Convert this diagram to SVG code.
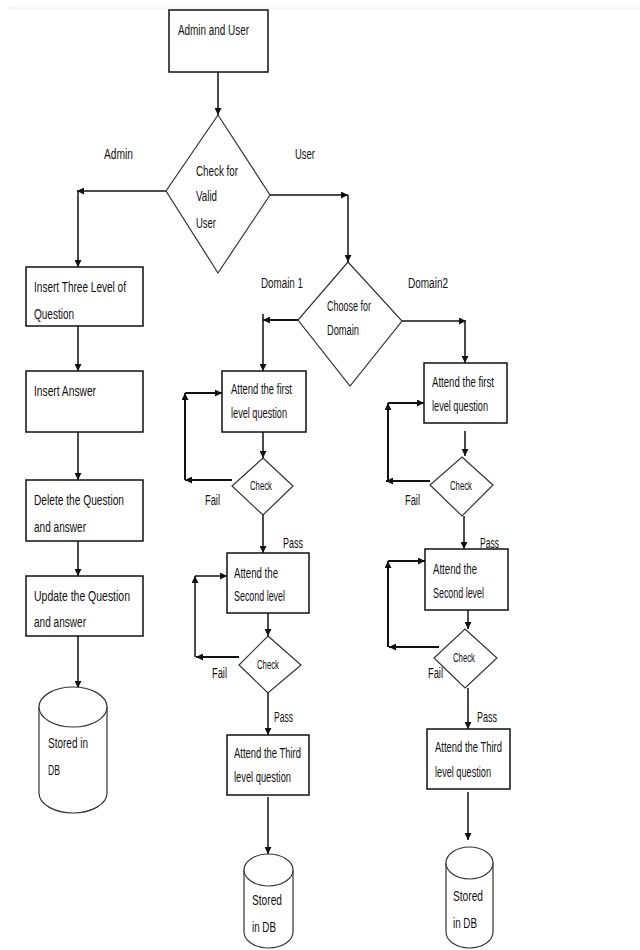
<svg xmlns="http://www.w3.org/2000/svg" width="640" height="950" viewBox="0 0 640 950">
<defs>
<style>
.bg{fill:#fff}
.box{fill:#fff;stroke:#111;stroke-width:1.5}
.sh{fill:#fff;stroke:#333;stroke-width:1.2}
.c{fill:none;stroke:#111;stroke-width:1.5}
.t{stroke:#111;stroke-width:2;fill:none}
text{font-family:"Liberation Sans",Arial,sans-serif;fill:#111}
.m{font-size:15.5px}
.s{font-size:14px}
.x{font-size:12.5px}
</style>
<marker id="ah" viewBox="0 0 10 10" refX="10" refY="5" markerWidth="7" markerHeight="7" orient="auto" markerUnits="userSpaceOnUse">
<path d="M0,0 L10,5 L0,10 z" fill="#111"/>
</marker>
</defs>
<rect class="bg" x="0" y="0" width="640" height="950"/>
<line x1="9" y1="8" x2="640" y2="8" stroke="#ececec" stroke-width="1"/>

<g id="connectors" marker-end="url(#ah)">
<path class="c" d="M218,72 V115"/>
<path class="c" d="M166,191 H77"/>
<path class="c" d="M78,191 V267"/>
<path class="c" d="M270,195 H348"/>
<path class="c" d="M348,195 V262"/>
<path class="t" d="M298,320 H263"/>
<path class="c" d="M263,314 V371"/>
<path class="c" d="M402,321 H466"/>
<path class="c" d="M465,321 V363"/>
<path class="c" d="M78,326 V371"/>
<path class="c" d="M78,432 V480"/>
<path class="c" d="M78,541 V576"/>
<path class="c" d="M78,636 V688"/>
<path class="c" d="M263,432 V458"/>
<path class="t" d="M232,480 H185"/>
<path class="t" d="M185,480 V393"/>
<path class="t" d="M185,393 H222"/>
<path class="c" d="M263,515 V553"/>
<path class="c" d="M268,603 V636"/>
<path class="t" d="M239,657 H196"/>
<path class="c" d="M195,657 V576"/>
<path class="c" d="M195,576 H227"/>
<path class="c" d="M268,693 V735"/>
<path class="c" d="M268,797 V854"/>
<path class="c" d="M465,431 V456"/>
<path class="t" d="M430,481 H386"/>
<path class="t" d="M388,481 V403"/>
<path class="t" d="M388,403 H424"/>
<path class="c" d="M464,516 V549"/>
<path class="c" d="M468,598 V629"/>
<path class="t" d="M439,647 H389"/>
<path class="t" d="M388,647 V561"/>
<path class="t" d="M388,561 H425"/>
<path class="c" d="M468,688 V729"/>
<path class="c" d="M468,792 V840"/>
</g>

<g id="n-start">
<rect class="box" x="169" y="10" width="99" height="62"/>
<text class="m" x="178" y="35" textLength="71" lengthAdjust="spacingAndGlyphs">Admin and User</text>
</g>

<g id="n-valid">
<path class="sh" d="M218,115 L270,195 L218,273 L166,191 Z"/>
<text class="m" x="196" y="176" textLength="42" lengthAdjust="spacingAndGlyphs">Check for</text>
<text class="m" x="196" y="201" textLength="21" lengthAdjust="spacingAndGlyphs">Valid</text>
<text class="m" x="196" y="228" textLength="20" lengthAdjust="spacingAndGlyphs">User</text>
</g>

<g id="labels">
<text class="m" x="104" y="159" textLength="29" lengthAdjust="spacingAndGlyphs">Admin</text>
<text class="m" x="295" y="159" textLength="20" lengthAdjust="spacingAndGlyphs">User</text>
<text class="m" x="261" y="288" textLength="42" lengthAdjust="spacingAndGlyphs">Domain 1</text>
<text class="m" x="408" y="288" textLength="40" lengthAdjust="spacingAndGlyphs">Domain2</text>
<text class="m" x="205" y="505" textLength="15" lengthAdjust="spacingAndGlyphs">Fail</text>
<text class="m" x="283" y="548" textLength="20" lengthAdjust="spacingAndGlyphs">Pass</text>
<text class="m" x="212" y="678" textLength="15" lengthAdjust="spacingAndGlyphs">Fail</text>
<text class="m" x="274" y="722" textLength="19" lengthAdjust="spacingAndGlyphs">Pass</text>
<text class="m" x="405" y="505" textLength="15" lengthAdjust="spacingAndGlyphs">Fail</text>
<text class="m" x="480" y="548" textLength="19" lengthAdjust="spacingAndGlyphs">Pass</text>
<text class="m" x="428" y="678" textLength="15" lengthAdjust="spacingAndGlyphs">Fail</text>
<text class="m" x="477" y="722" textLength="20" lengthAdjust="spacingAndGlyphs">Pass</text>
</g>

<g id="n-insert-three">
<rect class="box" x="26" y="267" width="117" height="59"/>
<text class="m" x="34" y="292" textLength="92" lengthAdjust="spacingAndGlyphs">Insert Three Level of</text>
<text class="m" x="34" y="319" textLength="40" lengthAdjust="spacingAndGlyphs">Question</text>
</g>
<g id="n-insert-answer">
<rect class="box" x="26" y="371" width="117" height="61"/>
<text class="m" x="34" y="396" textLength="62" lengthAdjust="spacingAndGlyphs">Insert Answer</text>
</g>
<g id="n-delete">
<rect class="box" x="26" y="480" width="117" height="61"/>
<text class="m" x="34" y="505" textLength="90" lengthAdjust="spacingAndGlyphs">Delete the Question</text>
<text class="m" x="34" y="532" textLength="52" lengthAdjust="spacingAndGlyphs">and answer</text>
</g>
<g id="n-update">
<rect class="box" x="26" y="576" width="117" height="60"/>
<text class="m" x="34" y="601" textLength="96" lengthAdjust="spacingAndGlyphs">Update  the Question</text>
<text class="m" x="34" y="627" textLength="52" lengthAdjust="spacingAndGlyphs">and answer</text>
</g>
<g id="n-db-admin">
<path class="sh" d="M39,707 V793 A34,20 0 0 0 107,793 V707"/>
<ellipse class="sh" cx="73" cy="707" rx="34" ry="20"/>
<text class="m" x="48" y="748" textLength="40" lengthAdjust="spacingAndGlyphs">Stored in</text>
<text class="m" x="48" y="775" textLength="12" lengthAdjust="spacingAndGlyphs">DB</text>
</g>

<g id="n-domain">
<path class="sh" d="M348,262 L402,321 L350,386 L298,320 Z"/>
<text class="s" x="327" y="311" textLength="44" lengthAdjust="spacingAndGlyphs">Choose for</text>
<text class="s" x="327" y="335" textLength="32" lengthAdjust="spacingAndGlyphs">Domain</text>
</g>

<g id="n-d1-first">
<rect class="box" x="222" y="371" width="84" height="61"/>
<text class="s" x="231" y="394" textLength="61" lengthAdjust="spacingAndGlyphs">Attend the first</text>
<text class="s" x="231" y="418" textLength="56" lengthAdjust="spacingAndGlyphs">level question</text>
</g>
<g id="n-d1-check1">
<path class="sh" d="M263,458 L293,486 L263,515 L232,486 Z"/>
<text class="x" x="261" y="490" text-anchor="middle" textLength="22" lengthAdjust="spacingAndGlyphs">Check</text>
</g>
<g id="n-d1-second">
<rect class="box" x="227" y="553" width="82" height="60"/>
<text class="s" x="234" y="578" textLength="44" lengthAdjust="spacingAndGlyphs">Attend the</text>
<text class="s" x="234" y="601" textLength="51" lengthAdjust="spacingAndGlyphs">Second level</text>
</g>
<g id="n-d1-check2">
<path class="sh" d="M268,636 L301,665 L268,693 L239,665 Z"/>
<text class="x" x="268" y="669" text-anchor="middle" textLength="22" lengthAdjust="spacingAndGlyphs">Check</text>
</g>
<g id="n-d1-third">
<rect class="box" x="227" y="735" width="82" height="60"/>
<text class="s" x="234" y="758" textLength="67" lengthAdjust="spacingAndGlyphs">Attend the Third</text>
<text class="s" x="234" y="782" textLength="57" lengthAdjust="spacingAndGlyphs">level question</text>
</g>
<g id="n-d1-db">
<path class="sh" d="M244,870 V932 A24.5,16 0 0 0 293,932 V870"/>
<ellipse class="sh" cx="268.5" cy="870" rx="24.5" ry="16"/>
<text class="m" x="252" y="905" textLength="30" lengthAdjust="spacingAndGlyphs">Stored</text>
<text class="m" x="252" y="932" textLength="24" lengthAdjust="spacingAndGlyphs">in DB</text>
</g>

<g id="n-d2-first">
<rect class="box" x="424" y="363" width="83" height="60"/>
<text class="s" x="432" y="387" textLength="62" lengthAdjust="spacingAndGlyphs">Attend the first</text>
<text class="s" x="432" y="411" textLength="56" lengthAdjust="spacingAndGlyphs">level question</text>
</g>
<g id="n-d2-check1">
<path class="sh" d="M462,457 L493,485 L462,516 L430,485 Z"/>
<text class="x" x="461" y="490" text-anchor="middle" textLength="22" lengthAdjust="spacingAndGlyphs">Check</text>
</g>
<g id="n-d2-second">
<rect class="box" x="425" y="549" width="83" height="61"/>
<text class="s" x="433" y="574" textLength="44" lengthAdjust="spacingAndGlyphs">Attend the</text>
<text class="s" x="433" y="598" textLength="51" lengthAdjust="spacingAndGlyphs">Second level</text>
</g>
<g id="n-d2-check2">
<path class="sh" d="M465,629 L497,658 L465,688 L434,658 Z"/>
<text class="x" x="464" y="662" text-anchor="middle" textLength="22" lengthAdjust="spacingAndGlyphs">Check</text>
</g>
<g id="n-d2-third">
<rect class="box" x="427" y="729" width="83" height="60"/>
<text class="s" x="435" y="752" textLength="67" lengthAdjust="spacingAndGlyphs">Attend the Third</text>
<text class="s" x="435" y="777" textLength="56" lengthAdjust="spacingAndGlyphs">level question</text>
</g>
<g id="n-d2-db">
<path class="sh" d="M446,863 V932 A23.5,16 0 0 0 493,932 V863"/>
<ellipse class="sh" cx="469.5" cy="863" rx="23.5" ry="16"/>
<text class="m" x="453" y="901" textLength="30" lengthAdjust="spacingAndGlyphs">Stored</text>
<text class="m" x="453" y="928" textLength="24" lengthAdjust="spacingAndGlyphs">in DB</text>
</g>
</svg>
